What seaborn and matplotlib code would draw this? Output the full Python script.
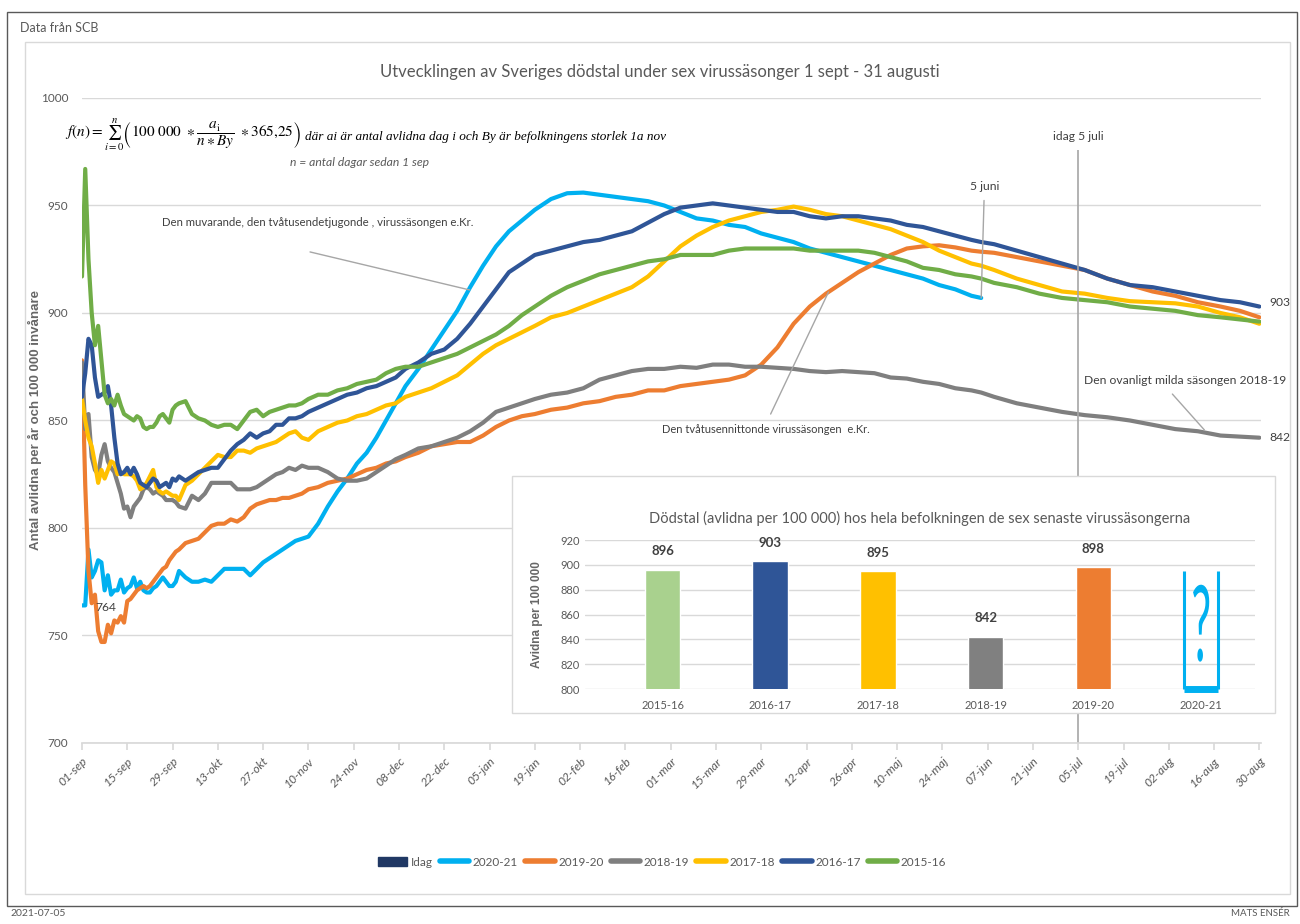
import numpy as np
import pandas as pd
import matplotlib
matplotlib.use("Agg")
import matplotlib.pyplot as plt
from matplotlib.patches import Rectangle, Patch, PathPatch
from matplotlib.lines import Line2D
from matplotlib.textpath import TextPath
from matplotlib.font_manager import FontProperties
from matplotlib.transforms import Affine2D
import seaborn as sns

# dagar efter 1 sep
dagar = [0, 1, 2, 3, 4, 5, 6, 7, 8, 9, 10, 11, 12, 13, 14, 15, 16, 17, 18, 19, 20,
         21, 22, 23, 24, 25, 26, 27, 28, 29, 30,
         32, 34, 36, 38, 40, 42, 44, 46, 48, 50, 52, 54, 56, 58, 60, 62, 64, 66, 68, 70,
         73, 76, 79, 82, 85, 88, 91, 94, 97, 100,
         104, 108, 112, 116, 120, 124, 128, 132, 136, 140,
         145, 150, 155, 160, 165, 170, 175, 180, 185, 190, 195, 200, 205, 210, 215,
         220, 225, 230, 235, 240, 245, 250, 255, 260, 265, 270, 275,
         278,
         282, 289, 296, 303, 310, 317, 324, 331, 338, 345, 352,
         358, 364]

s2015 = [917, 967, 925, 900, 885, 894, 878, 862, 858, 860, 857, 862, 857, 853, 852, 851,
         850, 852, 851, 847, 846, 847, 847, 849, 852, 853, 851, 849, 855, 857, 858,
         859, 853, 851, 850, 848, 847, 848, 848, 846, 850, 854, 855, 852, 854, 855, 856,
         857, 857, 858, 860,
         862, 862, 864, 865, 867, 868, 869, 872, 874, 875,
         875, 877, 879, 881, 884, 887, 890, 894, 899, 903,
         908, 912, 915, 918, 920, 922, 924, 925, 927, 927, 927, 929, 930, 930, 930,
         930, 929, 929, 929, 929, 928, 926, 924, 921, 920, 918, 917,
         916,
         914, 912, 909, 907, 906, 905, 903, 902, 901, 899, 898,
         897, 896]

s2016 = [861, 872, 888, 885, 870, 861, 862, 863, 866, 857, 842, 830, 825, 826, 828, 825,
         828, 825, 821, 820, 819, 821, 823, 822, 819, 820, 821, 819, 823, 822, 824,
         822, 824, 826, 827, 828, 828, 832, 836, 839, 841, 844, 842, 844, 845, 848, 848,
         851, 851, 852, 854,
         856, 858, 860, 862, 863, 865, 866, 868, 870, 874,
         877, 881, 883, 888, 895, 903, 911, 919, 923, 927,
         929, 931, 933, 934, 936, 938, 942, 946, 949, 950, 951, 950, 949, 948, 947,
         947, 945, 944, 945, 945, 944, 943, 941, 940, 938, 936, 934,
         933,
         932, 929, 926, 923, 920, 916, 913, 912, 910, 908, 906,
         905, 903]

s2017 = [860, 850, 842, 838, 830, 821, 827, 823, 827, 831, 830, 825, 826, 825, 825, 825,
         824, 822, 818, 819, 821, 824, 827, 819, 817, 816, 817, 816, 815, 815, 813,
         820, 822, 825, 828, 831, 834, 833, 833, 836, 836, 835, 837, 838, 839, 840, 842,
         844, 845, 842, 841,
         845, 847, 849, 850, 852, 853, 855, 857, 858, 861,
         863, 865, 868, 871, 876, 881, 885, 888, 891, 894,
         898, 900, 903, 906, 909, 912, 917, 924, 931, 936, 940, 943, 945, 947, 948,
         949.5, 948, 946, 945, 943, 941, 939, 936, 933, 929, 926, 923,
         922,
         920, 916, 913, 910, 909, 907, 905.5, 905, 904.5, 903, 900,
         898, 895]

s2018 = [877, 846, 853, 833, 827, 825, 834, 839, 831, 828, 826, 821, 816, 809, 810, 805,
         810, 812, 814, 818, 819, 818, 816, 817, 816, 815, 813, 813, 813, 812, 810,
         809, 815, 813, 816, 821, 821, 821, 821, 818, 818, 818, 819, 821, 823, 825, 826,
         828, 827, 829, 828,
         828, 826, 823, 822, 822, 823, 826, 829, 832, 834,
         837, 838, 840, 842, 845, 849, 854, 856, 858, 860,
         862, 863, 865, 869, 871, 873, 874, 874, 875, 874.5, 876, 876, 875, 875, 874.5,
         874, 873, 872.5, 873, 872.5, 872, 870, 869.5, 868, 867, 865, 864,
         863,
         861, 858, 856, 854, 852.5, 851.5, 850, 848, 846, 845, 843,
         842.5, 842]

s2019 = [878, 820, 780, 765, 769, 752, 747, 747, 755, 751, 757, 756, 759, 756, 766, 767,
         769, 771, 772, 773, 772, 773, 775, 777, 779, 781, 782, 785, 787, 789, 790,
         793, 794, 795, 798, 801, 802, 802, 804, 803, 805, 809, 811, 812, 813, 813, 814,
         814, 815, 816, 818,
         819, 821, 822, 823, 825, 827, 828, 830, 831, 833,
         835, 838, 839, 840, 840, 843, 847, 850, 852, 853,
         855, 856, 858, 859, 861, 862, 864, 864, 866, 867, 868, 869, 871, 876, 884,
         895, 903, 909, 914, 919, 923, 927, 930, 931, 931.5, 930.5, 929,
         928.5,
         928, 926, 924, 922, 920, 916, 913, 910, 908, 905, 903,
         901, 898]

s2020 = [764, 764, 790, 777, 780, 785, 784, 771, 778, 769, 771, 771, 776, 770, 772, 773,
         777, 772, 775, 771, 770, 770, 772, 773, 775, 777, 775, 773, 773, 775, 780,
         777, 775, 775, 776, 775, 778, 781, 781, 781, 781, 778, 781, 784, 786, 788, 790,
         792, 794, 795, 796,
         802, 810, 817, 823, 830, 835, 842, 850, 858, 866,
         874, 883, 892, 901, 912, 922, 931, 938, 943, 948,
         953, 955.7, 956, 955, 954, 953, 952, 950, 947, 944, 943, 941, 940, 937, 935,
         933, 930, 928, 926, 924, 922, 920, 918, 916, 913, 911, 908,
         907] + [np.nan] * 13

saesonger = ["2020-21", "2019-20", "2018-19", "2017-18", "2016-17", "2015-16"]
farger = {"2020-21": "#00B0F0", "2019-20": "#ED7D31", "2018-19": "#7F7F7F",
          "2017-18": "#FFC000", "2016-17": "#2F5597", "2015-16": "#70AD47"}

tick_etiketter = ["01-sep", "15-sep", "29-sep", "13-okt", "27-okt", "10-nov", "24-nov",
                  "08-dec", "22-dec", "05-jan", "19-jan", "02-feb", "16-feb", "01-mar",
                  "15-mar", "29-mar", "12-apr", "26-apr", "10-maj", "24-maj", "07-jun",
                  "21-jun", "05-jul", "19-jul", "02-aug", "16-aug", "30-aug"]
idag_dag = 308

# stapeldiagrammet
bar_saesonger = ["2015-16", "2016-17", "2017-18", "2018-19", "2019-20", "2020-21"]
bar_varden = [896, 903, 895, 842, 898, np.nan]
bar_farger = {"2015-16": "#A9D18E", "2016-17": "#2F5597", "2017-18": "#FFC000",
              "2018-19": "#808080", "2019-20": "#ED7D31", "2020-21": "#00B0F0"}
fraga_topp = 895

sns.set_theme(style="white")
plt.rcParams["font.family"] = ["Lato", "DejaVu Sans"]
plt.rcParams["mathtext.fontset"] = "stix"
GRA = "#595959"
TXT = "#404040"
LIN = "#A6A6A6"
W, H = 1300, 924


def fx(px):
    return px / W


def fy(py):
    return 1 - py / H


fig = plt.figure(figsize=(13, 9.24), dpi=100)
fig.patch.set_facecolor("white")

ax = fig.add_axes([fx(82), fy(743), fx(1261 - 82), (743 - 98) / H])

df = pd.DataFrame({"dag": dagar, "2015-16": s2015, "2016-17": s2016, "2017-18": s2017,
                   "2018-19": s2018, "2019-20": s2019, "2020-21": s2020})
lang = df.melt(id_vars="dag", var_name="säsong", value_name="värde").dropna()

sns.lineplot(data=lang, x="dag", y="värde", hue="säsong", hue_order=saesonger,
             palette=farger, linewidth=3, estimator=None, legend=False, ax=ax)

ax.set_xlim(0, 364.5)
ax.set_ylim(700, 1000)
ax.set_yticks(range(700, 1001, 50))
ax.yaxis.grid(True, color="#D9D9D9", lw=1)
ax.xaxis.grid(False)
ax.set_axisbelow(True)
for s in ["top", "right", "left"]:
    ax.spines[s].set_visible(False)
ax.spines["bottom"].set_color("#D9D9D9")
ax.set_xlabel("")
ax.set_ylabel("")
ax.set_xticks(range(0, 365, 14))
ax.set_xticklabels(tick_etiketter, rotation=45, ha="right", rotation_mode="anchor",
                   fontstyle="italic")
ax.tick_params(axis="x", length=5, color="#D9D9D9", labelsize=8.7, labelcolor=GRA,
               pad=4, bottom=True)
ax.tick_params(axis="y", length=0, labelsize=8.5, labelcolor=GRA, pad=10)

# annoteringar
ax.vlines(idag_dag, 700, 976, color=LIN, lw=1.2)
ax.text(idag_dag, 982, "idag 5 juli", ha="center", va="center", fontsize=8.7, color=TXT)

slut = lang[lang["säsong"] == "2020-21"].iloc[-1]
ax.annotate("5 juni", xy=(slut["dag"], slut["värde"]), xytext=(279, 959), ha="center",
            va="center", fontsize=8.7, color=TXT,
            arrowprops=dict(arrowstyle="-", color=LIN, lw=1, shrinkA=4, shrinkB=0))

ax.text(73, 942, "Den muvarande, den tvåtusendetjugonde , virussäsongen e.Kr.",
        ha="center", va="center", fontsize=8.2, color=TXT)
ax.annotate("", xy=(119.9, 910.7), xytext=(70.5, 928.4),
            arrowprops=dict(arrowstyle="-", color=LIN, lw=1, shrinkA=0, shrinkB=0))

ax.text(211.4, 845.6, "Den tvåtusennittonde virussäsongen  e.Kr.", ha="center",
        va="center", fontsize=8.0, color=TXT)
ax.annotate("", xy=(230.8, 909.8), xytext=(212.9, 853),
            arrowprops=dict(arrowstyle="-", color=LIN, lw=1, shrinkA=0, shrinkB=0))

ax.text(341, 868.8, "Den ovanligt milda säsongen 2018-19", ha="center", va="center",
        fontsize=8.7, color=TXT)
ax.annotate("", xy=(347, 845.6), xytext=(337.1, 862.3),
            arrowprops=dict(arrowstyle="-", color=LIN, lw=1, shrinkA=0, shrinkB=0))

forsta = lang[lang["säsong"] == "2020-21"].iloc[0]
ax.text(4, forsta["värde"] - 1, f"{forsta['värde']:.0f}", ha="left", va="center",
        fontsize=8.7, color=TXT)
for s in ["2016-17", "2018-19"]:
    sista = lang[lang["säsong"] == s].iloc[-1]
    ax.text(367, sista["värde"] + (2 if s == "2016-17" else 0), f"{sista['värde']:.0f}",
            ha="left", va="center", fontsize=8.7, color=TXT, clip_on=False)

# rubriker och formel
fig.text(fx(660), fy(72), "Utvecklingen av Sveriges dödstal under sex virussäsonger 1 sept - 31 augusti",
         ha="center", va="center", fontsize=12, color=GRA)
fig.text(fx(20), fy(28), "Data från SCB", ha="left", va="center", fontsize=9, color=GRA)
fig.text(fx(35), fy(420), "Antal avlidna per år och 100 000 invånare", rotation=90,
         ha="center", va="center", fontsize=9.5, color="#666666", fontweight="bold",
         family="Liberation Sans")
formel = (r"$f(n) = \sum_{i=0}^{n}\left(100\ 000\ \ast\dfrac{a_{\mathrm{i}}}{n \ast By}"
          r"\ \ast 365{,}25\right)$")
formel_txt = fig.text(fx(65), fy(135), formel, ha="left", va="center", fontsize=11,
                      color="black")
fig.canvas.draw()
bb = formel_txt.get_window_extent()
fig.text(bb.x1 / W + 0.003, fy(137),
         "där ai är antal avlidna dag i och By är befolkningens storlek 1a nov",
         ha="left", va="center", fontsize=9.5, fontstyle="italic", family="Liberation Serif",
         color="black")
fig.text(fx(360), fy(163), "n = antal dagar sedan 1 sep", ha="center", va="center",
         fontsize=8.7, fontstyle="italic", color=GRA)
fig.text(fx(10), fy(914), "2021-07-05", ha="left", va="center", fontsize=7.5, color=GRA)
fig.text(fx(1290), fy(914), "MATS ENSÉR", ha="right", va="center", fontsize=7, color=GRA)

# ramar
fig.add_artist(Rectangle((fx(7), fy(906)), fx(1297 - 7), (906 - 12) / H,
                         transform=fig.transFigure, fill=False, edgecolor="#595959", lw=1))
fig.add_artist(Rectangle((fx(25), fy(894)), fx(1290 - 25), (894 - 42) / H,
                         transform=fig.transFigure, fill=False, edgecolor="#D9D9D9", lw=1))

# inlagt stapeldiagram
fig.add_artist(Rectangle((fx(512), fy(713)), fx(1275 - 512), (713 - 476) / H,
                         transform=fig.transFigure, facecolor="white", edgecolor="#D9D9D9",
                         lw=1, zorder=2))
ax_in = fig.add_axes([fx(585), fy(689), fx(1255 - 585), (689 - 540) / H])
ax_in.set_zorder(3)
ax_in.patch.set_alpha(0)

bar_df = pd.DataFrame({"säsong": bar_saesonger, "avlidna": bar_varden}).dropna()
sns.barplot(data=bar_df, x="säsong", y="avlidna", hue="säsong", order=bar_saesonger,
            hue_order=bar_saesonger, palette=bar_farger, width=0.33, saturation=1,
            legend=False, ax=ax_in)
for c in ax_in.containers:
    ax_in.bar_label(c, fmt="%.0f", padding=9, fontsize=9.5, fontweight="bold", color=TXT)

pos = bar_saesonger.index("2020-21")
bla = bar_farger["2020-21"]
ax_in.vlines([pos - 0.16, pos + 0.16], 800, fraga_topp, color=bla, lw=2.2, clip_on=False)
ax_in.hlines(800, pos - 0.16, pos + 0.16, color=bla, lw=5, clip_on=False)

# högt smalt frågetecken
fraga = TextPath((0, 0), "?", size=1, prop=FontProperties(family="Lato"))
ext = fraga.get_extents()
fraga_form = (Affine2D().translate(-ext.x0 - ext.width / 2, -ext.y0)
              .scale(0.15 / ext.width, 62 / ext.height).translate(pos, 822))
ax_in.add_patch(PathPatch(fraga, transform=fraga_form + ax_in.transData, facecolor=bla,
                          edgecolor="none", clip_on=False))

ax_in.set_ylim(800, 920)
ax_in.set_xlim(-0.72, 5.5)
ax_in.set_yticks(range(800, 921, 20))
ax_in.yaxis.grid(True, color="#D9D9D9", lw=1)
ax_in.set_axisbelow(True)
for s in ["top", "right", "left", "bottom"]:
    ax_in.spines[s].set_visible(False)
ax_in.set_xlabel("")
ax_in.set_ylabel("")
ax_in.tick_params(axis="both", length=0, labelsize=8, labelcolor=GRA)
ax_in.tick_params(axis="x", pad=8)
ax_in.set_title("Dödstal (avlidna per 100 000) hos hela befolkningen de sex senaste virussäsongerna",
                fontsize=10.5, color=GRA, pad=12)
fig.text(fx(537), fy(615), "Avidna per 100 000", rotation=90, ha="center", va="center",
         fontsize=8.5, color="#666666", fontweight="bold", family="Liberation Sans")

# förklaring
handtag = [Patch(facecolor="#203864", edgecolor="#203864", label="Idag")]
handtag += [Line2D([], [], color=farger[s], lw=4, label=s) for s in saesonger]
leg = fig.legend(handles=handtag, loc="center", bbox_to_anchor=(fx(662), fy(862)), ncol=7,
                 frameon=False, fontsize=8.5, handlelength=2.5, handletextpad=0.3,
                 columnspacing=0.6)
for t in leg.get_texts():
    t.set_color(GRA)

fig.savefig("out.png", dpi=100)
